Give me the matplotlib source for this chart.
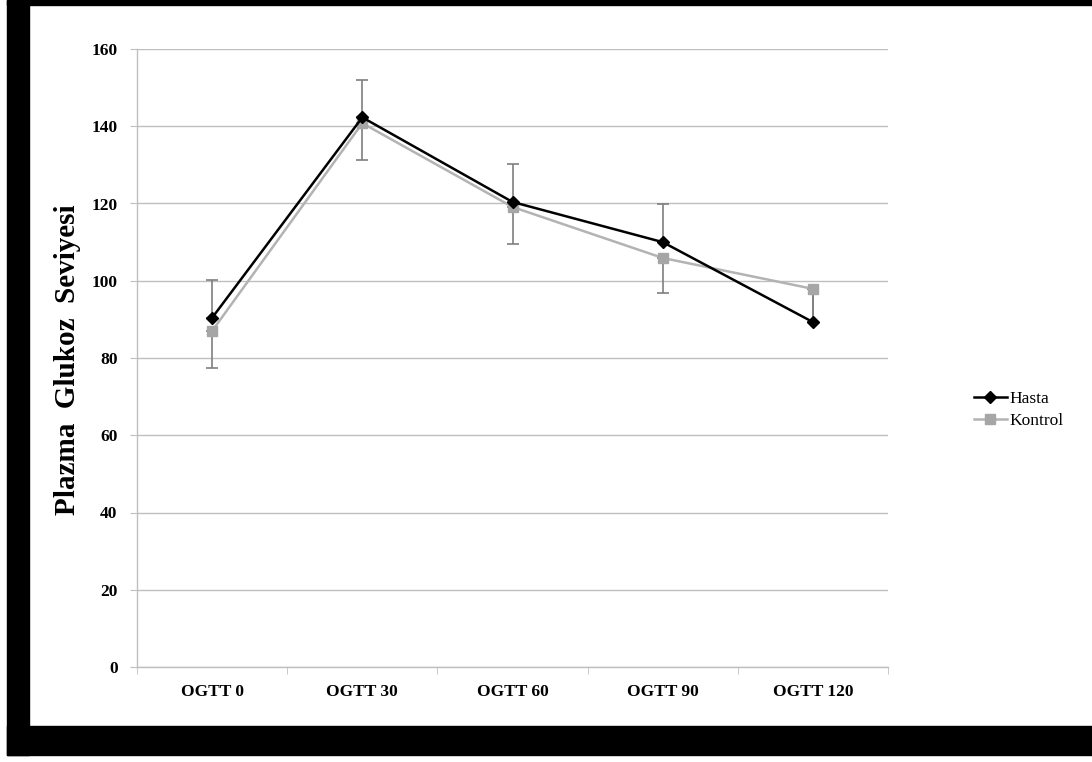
import matplotlib
matplotlib.use("Agg")
import matplotlib.pyplot as plt
from matplotlib.patches import Rectangle
import numpy as np

categories = ["OGTT 0", "OGTT 30", "OGTT 60", "OGTT 90", "OGTT 120"]
hasta = [90.4, 142.3, 120.4, 110.0, 89.3]
kontrol = [87.0, 140.8, 119.1, 105.9, 97.9]
hasta_err_up = [9.9, 9.7, 9.9, 9.9, 8.6]
kontrol_err_down = [9.5, 9.6, 9.6, 9.1, 8.6]
y_ticks = [0, 20, 40, 60, 80, 100, 120, 140, 160]

serif = ["Liberation Serif", "DejaVu Serif"]

fig = plt.figure(figsize=(10.92, 7.62), dpi=100)
W, H = 1092, 762

# dark frame around the chart area
def px_rect(x0, y0, x1, y1, color="black"):
    fig.patches.append(Rectangle((x0 / W, 1 - y1 / H), (x1 - x0) / W, (y1 - y0) / H,
                                 transform=fig.transFigure, color=color, zorder=0))

px_rect(7, 0, W, 5)
px_rect(7, 0, 29, 755)
px_rect(7, 726, W, 755)

ax = fig.add_axes([137 / W, 1 - 667 / H, (888 - 137) / W, (667 - 49) / H])
x = np.arange(len(categories))

grid_c = "#bfbfbf"
ax.set_ylim(0, 160)
ax.set_xlim(-0.5, len(categories) - 0.5)
ax.set_yticks(y_ticks)
ax.yaxis.grid(True, color=grid_c, linewidth=1.0)
ax.set_axisbelow(True)
for s in ["top", "right"]:
    ax.spines[s].set_visible(False)
for s in ["left", "bottom"]:
    ax.spines[s].set_color(grid_c)
    ax.spines[s].set_linewidth(1.0)

ax.set_xticks(x)
ax.set_xticklabels(categories)
ax.set_xticks(np.arange(len(categories) + 1) - 0.5, minor=True)
ax.tick_params(axis="x", which="major", length=0, pad=12)
ax.tick_params(axis="x", which="minor", length=5, color=grid_c, direction="out")
ax.tick_params(axis="y", length=5, color=grid_c, pad=9)
for lab in ax.get_xticklabels() + ax.get_yticklabels():
    lab.set_fontfamily(serif)
    lab.set_fontweight("bold")
    lab.set_fontsize(12.5)

ax.set_ylabel("Plazma  Glukoz  Seviyesi", fontfamily=serif, fontweight="bold",
              fontsize=21)
ax.yaxis.set_label_coords((81 - 137) / (888 - 137), 0.497)

err_c = "#7f7f7f"
ax.errorbar(x, hasta, yerr=[np.zeros(len(x)), hasta_err_up], fmt="none",
            ecolor=err_c, elinewidth=1.2, capsize=4, capthick=1.2, zorder=2)
ax.errorbar(x, kontrol, yerr=[kontrol_err_down, np.zeros(len(x))], fmt="none",
            ecolor=err_c, elinewidth=1.2, capsize=4, capthick=1.2, zorder=2)

ax.plot(x, kontrol, color="#b3b3b3", linewidth=1.8, marker="s", markersize=7,
        markerfacecolor="#a6a6a6", markeredgecolor="#a6a6a6", label="Kontrol", zorder=3)
ax.plot(x, hasta, color="black", linewidth=1.8, marker="D", markersize=6,
        markerfacecolor="black", markeredgecolor="black", label="Hasta", zorder=4)

handles, labels = ax.get_legend_handles_labels()
leg = fig.legend(handles[::-1], labels[::-1], loc="center left",
                 bbox_to_anchor=(960 / W, 1 - 410 / H), frameon=False,
                 prop={"family": serif, "size": 12.5}, handlelength=1.9,
                 handletextpad=0.17, labelspacing=0.3, borderpad=0.3)

fig.savefig("out.png", dpi=100)
